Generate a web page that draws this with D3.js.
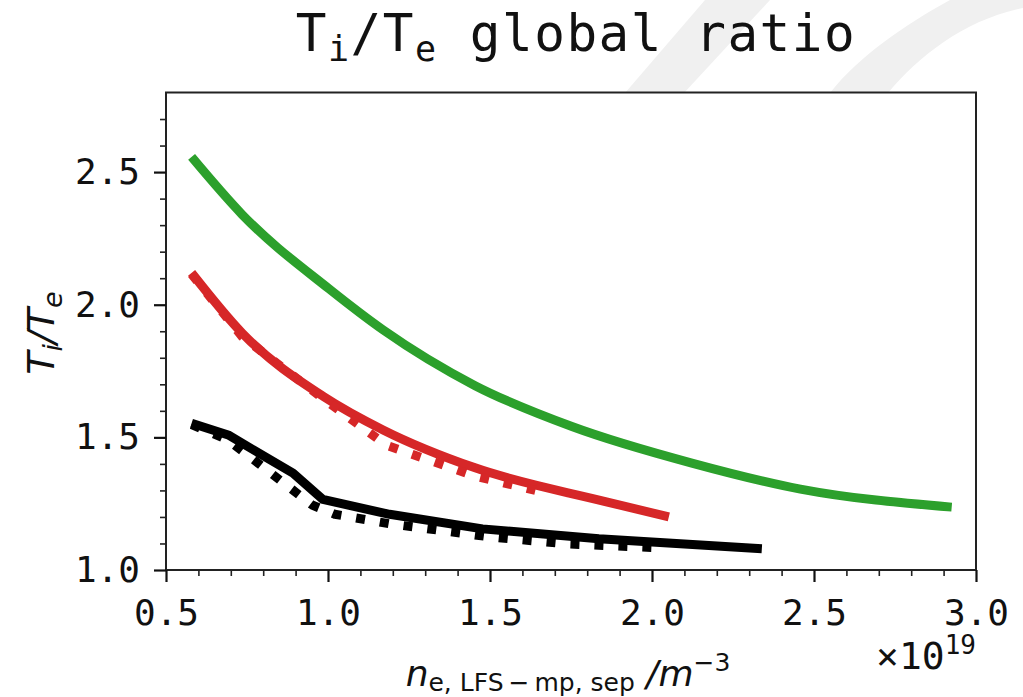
<!DOCTYPE html>
<html>
<head>
<meta charset="utf-8">
<script src="https://cdn.jsdelivr.net/npm/d3@7"></script>
<style>
  html, body { margin: 0; padding: 0; background: #ffffff; }
  svg { display: block; }
</style>
</head>
<body>
<svg id="chart" width="1023" height="697"></svg>
<script>
// Density at the outboard midplane separatrix, in units of 1e19 m^-3
const greenX = [0.579, 0.735, 1.003, 1.170, 1.454, 1.755, 2.123, 2.458, 2.925];
const greenY = [2.557, 2.340, 2.060, 1.905, 1.695, 1.540, 1.403, 1.305, 1.237];

const redSolidX = [0.579, 0.735, 0.986, 1.170, 1.454, 1.856, 2.052];
const redSolidY = [2.120, 1.893, 1.654, 1.528, 1.385, 1.258, 1.200];

const redDotX = [0.579, 0.735, 0.986, 1.181, 1.451, 1.640];
const redDotY = [2.115, 1.880, 1.645, 1.470, 1.355, 1.300];

const blackSolidX = [0.579, 0.692, 0.892, 0.984, 1.190, 1.477, 1.836, 2.339];
const blackSolidY = [1.553, 1.509, 1.365, 1.266, 1.210, 1.155, 1.118, 1.080];

const blackDotX = [0.579, 0.692, 0.951, 1.021, 1.191, 1.491, 1.741, 2.021];
const blackDotY = [1.548, 1.490, 1.245, 1.210, 1.174, 1.126, 1.098, 1.084];

const xMajorTicks = [0.5, 1.0, 1.5, 2.0, 2.5, 3.0];
const yMajorTicks = [1.0, 1.5, 2.0, 2.5];
const xMinorTicks = [0.6, 0.7, 0.8, 0.9, 1.1, 1.2, 1.3, 1.4, 1.6, 1.7, 1.8, 1.9, 2.1, 2.2, 2.3, 2.4, 2.6, 2.7, 2.8, 2.9];
const yMinorTicks = [1.1, 1.2, 1.3, 1.4, 1.6, 1.7, 1.8, 1.9, 2.1, 2.2, 2.3, 2.4, 2.6, 2.7];

const svg = d3.select("#chart");
const box = { left: 166, right: 976, top: 92.5, bottom: 570 };

// faint background swooshes
const bg = svg.append("g").attr("fill", "#f0f0f0");
bg.append("path").attr("d", "M625,93 L684,93 L770,0 L705,0 Z");
bg.append("path").attr("d", "M830,93 L888,93 C920,55 965,20 1023,8 L1023,0 L950,0 C905,25 860,55 830,93 Z");

const x = d3.scaleLinear().domain([0.5, 3.0]).range([box.left, box.right]);
const y = d3.scaleLinear().domain([1.0, 2.8]).range([box.bottom, box.top]);

// plot frame
svg.append("rect")
  .attr("x", box.left).attr("y", box.top)
  .attr("width", box.right - box.left).attr("height", box.bottom - box.top)
  .attr("fill", "#ffffff").attr("stroke", "#222").attr("stroke-width", 2);

const fmt = d3.format(".1f");
const tickFont = "'DejaVu Sans Mono', monospace";

// minor ticks
svg.append("g").attr("transform", `translate(0,${box.bottom})`)
  .call(d3.axisBottom(x).tickValues(xMinorTicks).tickSize(6).tickFormat(""))
  .call(g => g.select(".domain").remove())
  .call(g => g.selectAll("line").attr("stroke", "#222").attr("stroke-width", 1.6));
svg.append("g").attr("transform", `translate(${box.left},0)`)
  .call(d3.axisLeft(y).tickValues(yMinorTicks).tickSize(6).tickFormat(""))
  .call(g => g.select(".domain").remove())
  .call(g => g.selectAll("line").attr("stroke", "#222").attr("stroke-width", 1.6));

// major ticks and labels
svg.append("g").attr("transform", `translate(0,${box.bottom})`)
  .call(d3.axisBottom(x).tickValues(xMajorTicks).tickSize(12).tickPadding(17).tickFormat(fmt))
  .call(g => g.select(".domain").remove())
  .call(g => g.selectAll("line").attr("stroke", "#111").attr("stroke-width", 2.2))
  .call(g => g.selectAll("text").attr("font-family", tickFont).attr("font-size", 36).attr("fill", "#111"));
svg.append("g").attr("transform", `translate(${box.left},0)`)
  .call(d3.axisLeft(y).tickValues(yMajorTicks).tickSize(12).tickPadding(14).tickFormat(fmt))
  .call(g => g.select(".domain").remove())
  .call(g => g.selectAll("line").attr("stroke", "#111").attr("stroke-width", 2.2))
  .call(g => g.selectAll("text").attr("font-family", tickFont).attr("font-size", 36).attr("fill", "#111"));

// curves: smooth for the green and red scans, straight segments elsewhere
const smooth = d3.line().x(d => x(d[0])).y(d => y(d[1])).curve(d3.curveMonotoneX);
const straight = d3.line().x(d => x(d[0])).y(d => y(d[1]));
const series = [
  { xs: greenX, ys: greenY, color: "#2ca02c", dash: null, gen: smooth },
  { xs: redSolidX, ys: redSolidY, color: "#d62728", dash: null, gen: smooth },
  { xs: redDotX, ys: redDotY, color: "#d62728", dash: "9,15", gen: straight },
  { xs: blackSolidX, ys: blackSolidY, color: "#000000", dash: null, gen: straight },
  { xs: blackDotX, ys: blackDotY, color: "#000000", dash: "9,15", gen: straight }
];
svg.append("g").selectAll("path").data(series).join("path")
  .attr("d", s => s.gen(s.xs.map((v, i) => [v, s.ys[i]])))
  .attr("fill", "none")
  .attr("stroke", s => s.color)
  .attr("stroke-width", 9)
  .attr("stroke-linejoin", "round")
  .attr("stroke-linecap", "butt")
  .attr("stroke-dasharray", s => s.dash);

// title
const title = svg.append("text")
  .attr("x", 576).attr("y", 51)
  .attr("text-anchor", "middle")
  .attr("font-family", tickFont).attr("font-size", 51)
  .attr("letter-spacing", 1.5)
  .attr("fill", "#111");
title.append("tspan").text("T");
title.append("tspan").attr("font-size", 35).attr("dy", 10).text("i");
title.append("tspan").attr("dy", -10).text("/T");
title.append("tspan").attr("font-size", 35).attr("dy", 10).text("e");
title.append("tspan").attr("dy", -10).text(" global ratio");

// y-axis label
const yl = svg.append("text")
  .attr("transform", "translate(54,333) rotate(-90)")
  .attr("text-anchor", "middle")
  .attr("font-family", "'DejaVu Sans', sans-serif").attr("font-size", 38)
  .attr("font-style", "italic").attr("fill", "#111");
yl.append("tspan").text("T");
yl.append("tspan").attr("font-size", 27).attr("dy", 8).text("i");
yl.append("tspan").attr("dy", -8).text("/T");
yl.append("tspan").attr("font-size", 27).attr("dy", 8).text("e");

// x-axis label
const xl = svg.append("text")
  .attr("x", 568).attr("y", 686)
  .attr("text-anchor", "middle")
  .attr("font-family", "'DejaVu Sans', sans-serif").attr("font-size", 36)
  .attr("fill", "#111");
xl.append("tspan").attr("font-style", "italic").text("n");
xl.append("tspan").attr("font-size", 25).attr("dy", 5).text("e, LFS\u2009\u2212\u2009mp, sep");
xl.append("tspan").attr("font-style", "italic").attr("dy", -5).text(" /m");
xl.append("tspan").attr("font-size", 25).attr("dy", -15).text("\u22123");

// offset multiplier
const off = svg.append("text")
  .attr("x", 976).attr("y", 669)
  .attr("text-anchor", "end")
  .attr("font-family", tickFont).attr("font-size", 38)
  .attr("fill", "#111");
off.append("tspan").text("\u00d710");
off.append("tspan").attr("font-size", 26).attr("dy", -15).text("19");
</script>
</body>
</html>
